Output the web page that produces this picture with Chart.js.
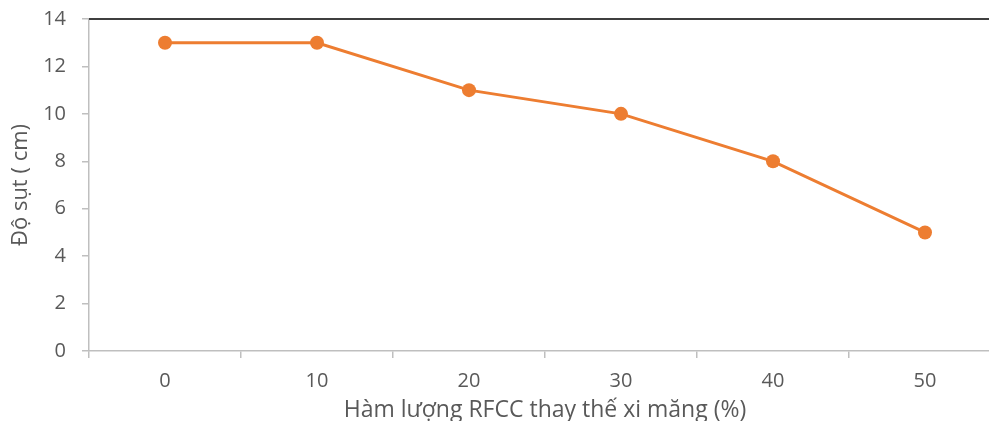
<!DOCTYPE html>
<html>
<head>
<meta charset="utf-8">
<script src="https://cdn.jsdelivr.net/npm/chart.js@4/dist/chart.umd.min.js"></script>
<style>
  html, body { margin: 0; padding: 0; background: #fff; overflow: hidden; width: 989px; height: 421px; }
  #wrap { position: absolute; left: 0; top: 0; width: 1008px; height: 421px; }
</style>
</head>
<body>
<div id="wrap"><canvas id="c" width="1008" height="421"></canvas></div>
<script>
// RFCC replacement level (%) and slump (cm)
const categories = ['0', '10', '20', '30', '40', '50'];
const slump = [13, 13, 11, 10, 8, 5];
const yTicks = [0, 2, 4, 6, 8, 10, 12, 14];

const FONT = "'Open Sans', 'Liberation Sans', sans-serif";
const TEXT = '#595959';
const AXIS = '#bfbfbf';

// Dark frame line along the top of the plot area
const topLine = {
  id: 'topLine',
  afterDraw(chart) {
    const { ctx, chartArea } = chart;
    ctx.save();
    ctx.strokeStyle = '#3f3f3f';
    ctx.lineWidth = 2;
    ctx.beginPath();
    ctx.moveTo(chartArea.left, chartArea.top);
    ctx.lineTo(chart.width, chartArea.top);
    ctx.stroke();
    ctx.restore();
  }
};

new Chart(document.getElementById('c'), {
  type: 'line',
  data: {
    labels: categories,
    datasets: [{
      data: slump,
      borderColor: '#ED7D31',
      backgroundColor: '#ED7D31',
      borderWidth: 3,
      pointRadius: 7,
      pointHoverRadius: 7,
      pointBorderWidth: 0,
      tension: 0
    }]
  },
  options: {
    responsive: false,
    devicePixelRatio: 1,
    animation: false,
    layout: { padding: { top: 19, right: 0, left: 0, bottom: 0 } },
    plugins: { legend: { display: false }, tooltip: { enabled: false } },
    scales: {
      x: {
        type: 'category',
        offset: true,
        grid: { offset: true, drawOnChartArea: false, color: AXIS, tickLength: 7, lineWidth: 1.5 },
        border: { color: AXIS, width: 1.5 },
        ticks: { color: TEXT, font: { family: FONT, size: 20 }, padding: 11, maxRotation: 0 },
        title: { display: true, text: 'Hàm lượng RFCC thay thế xi măng (%)', color: TEXT, font: { family: FONT, size: 23 }, padding: { top: 0, bottom: -3 } },
        afterFit(s) { s.height = 70; }
      },
      y: {
        min: 0, max: 14,
        afterBuildTicks(s) { s.ticks = yTicks.map(v => ({ value: v })); },
        grid: { drawOnChartArea: false, color: AXIS, tickLength: 7, lineWidth: 1.5 },
        border: { color: AXIS, width: 1.5 },
        ticks: { color: TEXT, font: { family: FONT, size: 20 }, padding: 16 },
        title: { display: true, text: 'Độ sụt ( cm)', color: TEXT, font: { family: FONT, size: 22 }, padding: { top: 8, bottom: 0 } },
        afterFit(s) { s.width = 89; s.paddingTop = 0; s.paddingBottom = 0; }
      }
    }
  },
  plugins: [topLine]
});
</script>
</body>
</html>
